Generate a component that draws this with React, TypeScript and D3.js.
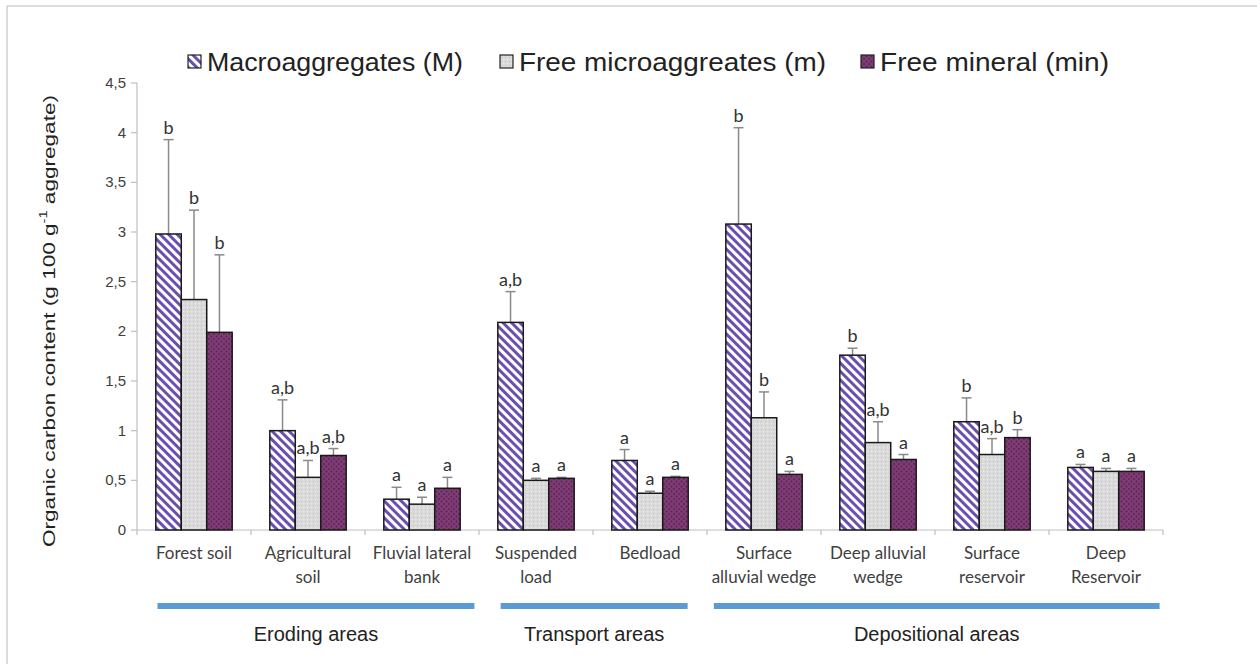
import React from "react";
import * as d3 from "d3";

const categories = [
  "Forest soil",
  "Agricultural\nsoil",
  "Fluvial lateral\nbank",
  "Suspended\nload",
  "Bedload",
  "Surface\nalluvial wedge",
  "Deep alluvial\nwedge",
  "Surface\nreservoir",
  "Deep\nReservoir",
];

const seriesNames = ["Macroaggregates (M)", "Free microaggreates (m)", "Free mineral (min)"];

const macroValues = [2.98, 1.0, 0.31, 2.09, 0.7, 3.08, 1.76, 1.09, 0.63];
const macroErrors = [0.95, 0.31, 0.12, 0.31, 0.11, 0.97, 0.07, 0.24, 0.03];
const macroLetters = ["b", "a,b", "a", "a,b", "a", "b", "b", "b", "a"];

const microValues = [2.32, 0.53, 0.26, 0.5, 0.37, 1.13, 0.88, 0.76, 0.59];
const microErrors = [0.9, 0.17, 0.07, 0.02, 0.02, 0.26, 0.21, 0.16, 0.03];
const microLetters = ["b", "a,b", "a", "a", "a", "b", "a,b", "a,b", "a"];

const mineralValues = [1.99, 0.75, 0.42, 0.52, 0.53, 0.56, 0.71, 0.93, 0.59];
const mineralErrors = [0.78, 0.07, 0.11, 0.01, 0.01, 0.03, 0.05, 0.08, 0.03];
const mineralLetters = ["b", "a,b", "a", "a", "a", "a", "a", "b", "a"];

const yTicks = [0, 0.5, 1, 1.5, 2, 2.5, 3, 3.5, 4, 4.5];

// area groups: name and span in category-index units
const areaNames = ["Eroding areas", "Transport areas", "Depositional areas"];
const areaSpans: [number, number][] = [
  [0.18, 2.96],
  [3.19, 4.83],
  [5.06, 8.97],
];

const series = [
  { name: seriesNames[0], values: macroValues, errors: macroErrors, letters: macroLetters, fill: "url(#pMacro)" },
  { name: seriesNames[1], values: microValues, errors: microErrors, letters: microLetters, fill: "url(#pMicro)" },
  { name: seriesNames[2], values: mineralValues, errors: mineralErrors, letters: mineralLetters, fill: "url(#pMin)" },
];

const W = 1257;
const H = 664;
const left = 137;
const right = 1163;
const top = 83;
const bottom = 530;

export default function App() {
  const y = d3.scaleLinear().domain([0, 4.5]).range([bottom, top]);
  const x = d3
    .scaleBand<string>()
    .domain(categories)
    .range([left, right])
    .paddingInner(0.33)
    .paddingOuter(0.165);
  const xs = d3
    .scaleBand<string>()
    .domain(seriesNames)
    .range([0, x.bandwidth()]);
  const xi = d3.scaleLinear().domain([0, categories.length]).range([left, right]);
  const fmt = (v: number) => String(v).replace(".", ",");

  const sansFont = "'Liberation Sans', Arial, sans-serif";
  const labelFont = "Lato, 'Open Sans', sans-serif";

  const legendX = [188, 500, 861];
  const legendLen = [256, 307, 229];

  return (
    <div style={{ position: "absolute", left: 0, top: 0 }}>
      <svg width={W} height={H} style={{ display: "block", background: "#fff" }}>
        <defs>
          <pattern id="pMacro" width="6" height="6" patternUnits="userSpaceOnUse" patternTransform="rotate(-45)">
            <rect width="6" height="6" fill="#ffffff" />
            <rect width="3" height="6" fill="#6b4fb0" />
          </pattern>
          <pattern id="pMicro" width="4" height="4" patternUnits="userSpaceOnUse">
            <rect width="4" height="4" fill="#dadada" />
            <rect x="1" y="1" width="1" height="1" fill="#c4c4c4" />
            <rect x="3" y="3" width="1" height="1" fill="#ececec" />
          </pattern>
          <pattern id="pMin" width="5" height="5" patternUnits="userSpaceOnUse">
            <rect width="5" height="5" fill="#7e3c74" />
            <circle cx="1.5" cy="1.5" r="0.9" fill="#5a2150" />
            <circle cx="4" cy="4" r="0.9" fill="#5a2150" />
          </pattern>
        </defs>

        {/* frame */}
        <line x1={7} y1={6} x2={W} y2={6} stroke="#d0d0d0" strokeWidth={1.5} />
        <line x1={7} y1={6} x2={7} y2={H} stroke="#d0d0d0" strokeWidth={1.5} />

        {/* legend */}
        {series.map((s, i) => (
          <g key={s.name}>
            <rect x={legendX[i]} y={55} width={13} height={13} fill={s.fill} stroke="#222" strokeWidth={1.2} />
            <text
              x={legendX[i] + 19}
              y={71}
              fontFamily={sansFont}
              fontSize={25}
              fill="#222"
              textLength={legendLen[i]}
              lengthAdjust="spacingAndGlyphs"
            >
              {s.name}
            </text>
          </g>
        ))}

        {/* y axis */}
        <line x1={left} y1={top} x2={left} y2={bottom} stroke="#bfbfbf" strokeWidth={1.2} />
        {yTicks.map((t) => (
          <g key={t}>
            <line x1={left - 6} x2={left} y1={y(t)} y2={y(t)} stroke="#bfbfbf" strokeWidth={1.2} />
            <text
              x={left - 11}
              y={y(t) + 5}
              textAnchor="end"
              fontFamily={sansFont}
              fontSize={15}
              fill="#404040"
            >
              {fmt(t)}
            </text>
          </g>
        ))}
        <text
          transform={`translate(49,321) rotate(-90)`}
          textAnchor="middle"
          dominantBaseline="central"
          fontFamily={sansFont}
          fontSize={17}
          fill="#222"
          textLength={452}
          lengthAdjust="spacingAndGlyphs"
        >
          Organic carbon content (g 100 g
          <tspan baselineShift="super" fontSize={11}>-1</tspan>
          {" aggregate)"}
        </text>

        {/* x axis */}
        <line x1={left} y1={bottom} x2={right} y2={bottom} stroke="#bfbfbf" strokeWidth={1.2} />
        {d3.range(categories.length + 1).map((i) => (
          <line key={i} x1={xi(i)} x2={xi(i)} y1={bottom} y2={bottom + 5} stroke="#bfbfbf" strokeWidth={1.2} />
        ))}
        {categories.map((c) => (
          <text
            key={c}
            x={(x(c) as number) + x.bandwidth() / 2}
            y={559}
            textAnchor="middle"
            fontFamily={labelFont}
            fontSize={17}
            fill="#404040"
          >
            {c.split("\n").map((line, li) => (
              <tspan key={li} x={(x(c) as number) + x.bandwidth() / 2} dy={li === 0 ? 0 : 24}>
                {line}
              </tspan>
            ))}
          </text>
        ))}

        {/* bars */}
        {series.map((s) =>
          categories.map((c, ci) => {
            const bx = (x(c) as number) + (xs(s.name) as number);
            const bw = xs.bandwidth();
            const v = s.values[ci];
            const e = v + s.errors[ci];
            const cx = bx + bw / 2;
            return (
              <g key={s.name + c}>
                <line x1={cx} x2={cx} y1={y(v)} y2={y(e)} stroke="#8a8a8a" strokeWidth={1.5} />
                <line x1={cx - 5} x2={cx + 5} y1={y(e)} y2={y(e)} stroke="#8a8a8a" strokeWidth={1.5} />
                <rect x={bx} y={y(v)} width={bw} height={y(0) - y(v)} fill={s.fill} stroke="#1a1a1a" strokeWidth={1.5} />
                <text
                  x={cx}
                  y={y(e) - 6}
                  textAnchor="middle"
                  fontFamily={labelFont}
                  fontSize={18}
                  fill="#333"
                >
                  {s.letters[ci]}
                </text>
              </g>
            );
          })
        )}

        {/* area groups */}
        {areaNames.map((a, i) => {
          const x1 = xi(areaSpans[i][0]);
          const x2 = xi(areaSpans[i][1]);
          return (
            <g key={a}>
              <line x1={x1} x2={x2} y1={606} y2={606} stroke="#5b9bd5" strokeWidth={6} />
              <text
                x={(x1 + x2) / 2}
                y={641}
                textAnchor="middle"
                fontFamily={sansFont}
                fontSize={20}
                fill="#222"
              >
                {a}
              </text>
            </g>
          );
        })}
      </svg>
    </div>
  );
}
